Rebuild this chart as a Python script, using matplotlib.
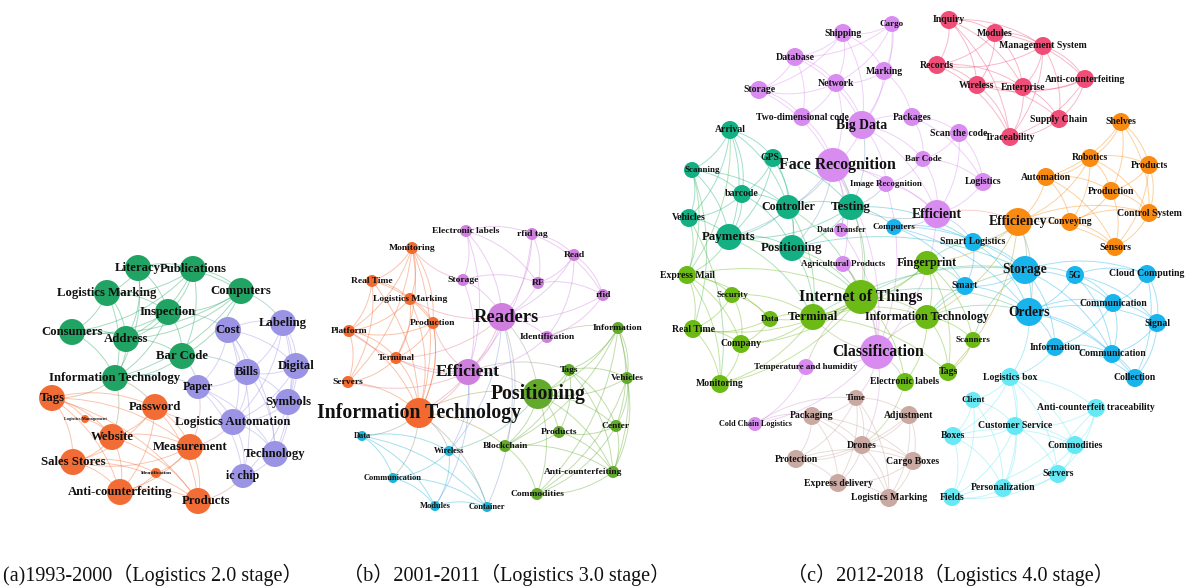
import numpy as np
import matplotlib
matplotlib.use('Agg')
import matplotlib.pyplot as plt
from matplotlib.path import Path
from matplotlib.patches import PathPatch
from matplotlib.colors import to_rgb

# ---------------- (a) 1993-2000 ----------------
labels_a = ['Literacy', 'Publications', 'Logistics Marking', 'Computers', 'Inspection',
            'Consumers', 'Address', 'Bar Code', 'Information Technology',
            'Cost', 'Labeling', 'Digital', 'Bills', 'Paper', 'Symbols',
            'Logistics Automation', 'Technology', 'ic chip',
            'Tags', 'Password', 'Logistics Management', 'Website', 'Measurement',
            'Sales Stores', 'Identification', 'Anti-counterfeiting', 'Products']
group_a = [0] * 9 + [1] * 9 + [2] * 9
weight_a = [13, 13, 13, 13, 13, 13, 13, 13, 13,
            13, 13, 13, 13, 12, 13, 13, 13, 12,
            13, 13, 4, 13, 13, 13, 5, 13, 13]
edges_a = [(0, 1), (0, 2), (0, 4), (0, 6), (0, 3), (1, 3), (1, 4), (1, 2), (1, 6), (2, 4),
           (2, 5), (2, 6), (2, 8), (3, 4), (3, 6), (3, 7), (4, 6), (4, 7), (4, 5), (5, 6),
           (5, 8), (6, 7), (6, 8), (7, 8), (3, 5), (1, 7), (0, 8), (4, 8), (1, 5), (3, 8),
           (9, 10), (9, 12), (9, 13), (9, 15), (9, 17), (10, 11), (10, 12), (10, 14), (10, 16),
           (11, 12), (11, 14), (11, 15), (12, 13), (12, 14), (12, 15), (12, 16), (13, 15),
           (13, 17), (14, 15), (14, 16), (15, 16), (15, 17), (16, 17), (9, 11), (10, 15),
           (13, 16), (11, 17), (9, 16),
           (18, 19), (18, 21), (18, 22), (18, 23), (18, 25), (18, 26), (19, 21), (19, 22),
           (19, 25), (19, 23), (21, 22), (21, 23), (21, 25), (21, 26), (22, 23), (22, 25),
           (22, 26), (23, 25), (23, 26), (25, 26), (18, 20), (20, 21), (24, 25), (22, 24),
           (19, 26), (23, 24),
           (8, 13), (7, 13), (8, 18), (8, 19), (13, 22), (15, 22), (17, 26), (7, 12),
           (4, 9), (8, 21), (15, 19), (3, 10)]
colors_a = ['#21a463', '#9b93e4', '#f26d36']

# layout (pixel positions)
pos_a = [(138, 268), (193, 269), (107, 293), (241, 291), (168, 312), (72, 332), (126, 339),
         (182, 356), (115, 378), (228, 330), (283, 323), (296, 366), (247, 372), (198, 387),
         (288, 402), (233, 422), (275, 454), (243, 476), (52, 398), (155, 407), (85, 419),
         (112, 437), (190, 447), (73, 462), (156, 473), (120, 492), (198, 501)]
label_dx_a = {26: 8}

# ---------------- (b) 2001-2011 ----------------
labels_b = ['Electronic labels', 'rfid tag', 'Read', 'Storage', 'RF', 'rfid', 'Readers',
            'Identification', 'Efficient',
            'Monitoring', 'Real Time', 'Logistics Marking', 'Production', 'Platform',
            'Terminal', 'Servers', 'Information Technology',
            'Information', 'Tags', 'Vehicles', 'Positioning', 'Center', 'Products',
            'Blockchain', 'Anti-counterfeiting', 'Commodities',
            'Data', 'Wireless', 'Communication', 'Modules', 'Container']
group_b = [1] * 9 + [0] * 8 + [2] * 9 + [3] * 5
weight_b = [6, 6, 6, 6, 6, 6, 14, 6, 13,
            6, 6, 6, 6, 6, 6, 6, 15,
            6, 6, 6, 15, 6, 6, 6, 6, 6,
            5, 5, 5, 5, 5]
edges_b = [(0, 1), (0, 3), (0, 6), (0, 4), (1, 2), (1, 4), (1, 6), (1, 5), (2, 4), (2, 5),
           (2, 6), (3, 6), (3, 4), (3, 8), (4, 6), (4, 5), (5, 6), (5, 7), (6, 7), (6, 8),
           (7, 8), (0, 8), (2, 7), (1, 8),
           (9, 10), (9, 11), (9, 12), (9, 13), (9, 14), (9, 16), (10, 11), (10, 13), (10, 15),
           (10, 16), (11, 12), (11, 13), (11, 14), (11, 16), (12, 13), (12, 14), (12, 16),
           (13, 14), (13, 15), (13, 16), (14, 15), (14, 16), (15, 16), (10, 12), (9, 15),
           (17, 18), (17, 19), (17, 20), (17, 21), (17, 24), (18, 19), (18, 20), (18, 21),
           (18, 22), (18, 23), (18, 24), (19, 20), (19, 21), (19, 24), (19, 25), (20, 21),
           (20, 22), (20, 23), (20, 24), (20, 25), (21, 22), (21, 24), (21, 25), (22, 23),
           (22, 24), (23, 24), (23, 25), (24, 25), (17, 25), (17, 23),
           (26, 27), (26, 28), (26, 29), (26, 30), (27, 28), (27, 29), (27, 30), (28, 29),
           (28, 30), (29, 30),
           (8, 16), (8, 20), (6, 20), (6, 16), (16, 20), (16, 27), (16, 28), (16, 26),
           (8, 27), (6, 30), (6, 27), (8, 29), (12, 16), (8, 12), (6, 11), (6, 14), (7, 17),
           (16, 23), (8, 18), (16, 30), (8, 14), (8, 13), (3, 9), (8, 15), (20, 27), (6, 23)]
colors_b = ['#f26a2f', '#cf80de', '#63aa2c', '#1cb4d7']

pos_b = [(466, 231), (532, 234), (574, 255), (463, 280), (538, 283), (603, 295), (502, 317),
         (547, 337), (468, 372), (412, 248), (372, 281), (410, 299), (433, 323), (349, 331),
         (396, 358), (348, 382), (419, 413), (618, 328), (569, 370), (627, 378), (538, 394),
         (616, 426), (559, 432), (505, 446), (613, 472), (537, 494), (362, 436), (449, 451),
         (393, 478), (435, 506), (487, 507)]
label_dx_b = {24: -30, 6: 4}

# ---------------- (c) 2012-2018 ----------------
labels_c = ['Cargo', 'Shipping', 'Database', 'Marking', 'Network', 'Storage',
            'Two-dimensional code', 'Big Data', 'Packages', 'Scan the code',
            'Face Recognition', 'Bar Code', 'Image Recognition', 'Logistics', 'Efficient',
            'Data Transfer', 'Agricultural Products', 'Classification',
            'Temperature and humidity', 'Cold Chain Logistics',
            'Inquiry', 'Modules', 'Management System', 'Records', 'Anti-counterfeiting',
            'Wireless', 'Enterprise', 'Supply Chain', 'Traceability',
            'Shelves', 'Robotics', 'Products', 'Automation', 'Production', 'Efficiency',
            'Conveying', 'Control System', 'Sensors',
            'Arrival', 'GPS', 'Scanning', 'barcode', 'Controller', 'Testing', 'Vehicles',
            'Payments', 'Positioning',
            'Fingerprint', 'Express Mail', 'Security', 'Internet of Things', 'Data',
            'Terminal', 'Real Time', 'Company', 'Information Technology', 'Scanners',
            'Monitoring', 'Tags', 'Electronic labels',
            'Computers', 'Smart Logistics', 'Storage', '5G', 'Cloud Computing', 'Smart',
            'Orders', 'Communication', 'Signal', 'Information', 'Communication', 'Collection',
            'Logistics box', 'Client', 'Anti-counterfeit traceability', 'Customer Service',
            'Boxes', 'Commodities', 'Servers', 'Personalization', 'Fields',
            'Time', 'Packaging', 'Adjustment', 'Drones', 'Protection', 'Cargo Boxes',
            'Express delivery', 'Logistics Marking']
group_c = ([0] * 20 + [1] * 9 + [2] * 9 + [3] * 9 + [4] * 13 + [5] * 12 + [6] * 9 + [7] * 8)
weight_c = [8, 9, 9, 9, 9, 9, 9, 14, 9, 9, 17, 8, 8, 9, 14, 7, 8, 17, 8, 7,
            9, 9, 9, 9, 9, 9, 9, 9, 9,
            9, 9, 9, 9, 9, 14, 9, 9, 9,
            9, 9, 8, 9, 12, 13, 9, 13, 13,
            12, 9, 8, 17, 8, 13, 9, 9, 12, 8, 9, 9, 9,
            8, 9, 14, 9, 9, 9, 14, 9, 9, 9, 9, 9,
            9, 8, 9, 9, 9, 9, 9, 9, 9,
            8, 9, 9, 9, 9, 9, 9, 9]
edges_c = [(0, 1), (0, 3), (0, 4), (0, 7), (0, 2), (1, 2), (1, 3), (1, 4), (1, 7), (1, 5),
           (2, 4), (2, 5), (2, 6), (2, 7), (3, 4), (3, 7), (3, 8), (4, 5), (4, 6), (4, 7),
           (4, 10), (5, 6), (5, 10), (6, 7), (6, 10), (7, 8), (7, 10), (7, 11), (7, 12),
           (8, 9), (8, 11), (8, 13), (9, 11), (9, 13), (9, 14), (10, 12), (10, 14), (10, 15),
           (10, 16), (10, 17), (11, 12), (11, 13), (11, 14), (12, 14), (13, 14), (14, 17),
           (15, 17), (16, 17), (17, 18), (17, 19), (18, 19), (7, 14), (12, 17),
           (20, 21), (20, 23), (20, 25), (20, 26), (20, 22), (21, 22), (21, 23), (21, 25),
           (21, 26), (21, 24), (22, 24), (22, 26), (22, 27), (22, 23), (23, 25), (23, 26),
           (23, 28), (24, 26), (24, 27), (24, 28), (25, 26), (25, 27), (25, 28), (26, 27),
           (26, 28), (27, 28), (20, 28), (22, 28), (24, 25),
           (29, 30), (29, 31), (29, 33), (29, 32), (29, 36), (30, 31), (30, 32), (30, 33),
           (30, 34), (30, 35), (31, 33), (31, 36), (31, 37), (32, 33), (32, 34), (32, 35),
           (33, 35), (33, 36), (33, 37), (34, 35), (34, 36), (34, 37), (35, 36), (35, 37),
           (36, 37), (32, 37), (30, 36),
           (38, 39), (38, 40), (38, 41), (38, 42), (38, 44), (39, 41), (39, 42), (39, 43),
           (39, 45), (40, 41), (40, 44), (40, 45), (41, 42), (41, 44), (41, 45), (41, 46),
           (42, 43), (42, 45), (42, 46), (43, 46), (44, 45), (45, 46), (40, 42), (38, 45),
           (39, 46), (43, 45),
           (47, 50), (47, 52), (47, 55), (47, 56), (47, 58), (48, 49), (48, 51), (48, 53),
           (48, 54), (48, 50), (49, 51), (49, 52), (49, 53), (49, 54), (50, 51), (50, 52),
           (50, 55), (50, 53), (50, 57), (51, 52), (51, 53), (51, 54), (52, 54), (52, 55),
           (53, 54), (53, 57), (54, 57), (55, 56), (55, 58), (55, 59), (56, 58), (52, 57),
           (50, 59), (48, 57), (52, 58), (50, 54),
           (60, 61), (60, 62), (60, 65), (60, 66), (61, 62), (61, 65), (61, 66), (62, 63),
           (62, 64), (62, 65), (62, 66), (62, 67), (62, 69), (63, 64), (63, 66), (63, 67),
           (63, 70), (64, 67), (64, 68), (64, 71), (65, 66), (66, 67), (66, 68), (66, 69),
           (66, 70), (66, 71), (67, 68), (67, 69), (67, 70), (68, 70), (68, 71), (69, 70),
           (69, 71), (70, 71), (63, 68), (62, 70),
           (72, 73), (72, 74), (72, 75), (72, 76), (72, 77), (72, 79), (73, 75), (73, 76),
           (73, 80), (73, 79), (74, 75), (74, 77), (74, 78), (75, 76), (75, 77), (75, 78),
           (75, 79), (75, 80), (76, 77), (76, 79), (76, 80), (77, 78), (77, 79), (78, 79),
           (78, 80), (79, 80), (72, 78), (74, 80),
           (81, 82), (81, 83), (81, 84), (81, 85), (81, 87), (82, 84), (82, 85), (82, 86),
           (82, 88), (83, 84), (83, 86), (83, 88), (83, 85), (84, 85), (84, 86), (84, 87),
           (84, 88), (85, 86), (85, 87), (86, 87), (86, 88), (87, 88), (81, 88), (82, 87),
           (10, 42), (10, 43), (10, 46), (10, 50), (10, 45), (14, 43), (14, 61), (14, 60),
           (14, 34), (7, 43), (43, 60), (43, 50), (46, 50), (46, 52), (45, 52), (42, 52),
           (45, 48), (50, 17), (50, 62), (50, 66), (55, 62), (55, 66), (47, 61), (47, 65),
           (34, 62), (34, 61), (34, 55), (34, 66), (17, 52), (17, 55), (17, 59), (17, 81),
           (17, 84), (19, 81), (19, 82), (18, 50), (16, 50), (15, 43), (56, 62), (34, 58),
           (59, 84), (52, 62), (45, 50), (42, 50), (44, 48), (40, 48), (46, 62), (43, 61),
           (34, 47), (12, 43), (66, 72), (69, 72), (55, 65), (40, 53), (44, 57), (38, 48)]
colors_c = ['#d88cf0', '#ee4e78', '#f98b12', '#12b083', '#6cba15', '#1ab4ec',
            '#66e9f4', '#c9a9a2']

pos_c = [(892, 24), (843, 33), (795, 57), (884, 71), (836, 83), (759, 90), (802, 117),
         (862, 125), (912, 117), (959, 133), (833, 165), (923, 159), (886, 184), (983, 182),
         (937, 214), (841, 230), (843, 264), (877, 352), (806, 367), (755, 424),
         (949, 20), (995, 33), (1043, 46), (937, 65), (1085, 79), (977, 85), (1023, 87),
         (1059, 119), (1010, 137),
         (1121, 122), (1090, 158), (1149, 165), (1046, 177), (1111, 191), (1018, 222),
         (1070, 222), (1149, 213), (1115, 247),
         (730, 130), (773, 158), (692, 170), (742, 194), (788, 207), (851, 207), (689, 218),
         (729, 237), (792, 248),
         (927, 263), (687, 275), (732, 295), (861, 297), (770, 319), (813, 317), (693, 329),
         (741, 344), (927, 317), (973, 340), (720, 384), (948, 372), (905, 382),
         (894, 227), (973, 242), (1025, 270), (1075, 275), (1147, 274), (965, 286),
         (1029, 312), (1113, 303), (1157, 323), (1055, 347), (1112, 354), (1135, 378),
         (1010, 377), (973, 400), (1096, 408), (1015, 426), (953, 436), (1075, 445),
         (1058, 474), (1003, 488), (952, 497),
         (856, 398), (812, 416), (909, 415), (862, 445), (796, 459), (913, 461), (838, 483),
         (889, 498)]
label_dx_c = {40: 10, 10: 4, 39: -3, 17: 1}

captions = ['(a)1993-2000\uff08Logistics 2.0 stage\uff09',
            '\uff08b\uff092001-2011\uff08Logistics 3.0 stage\uff09',
            '\uff08c\uff092012-2018\uff08Logistics 4.0 stage\uff09']

serif = ['Liberation Serif', 'Noto Sans CJK SC', 'DejaVu Serif']

fig = plt.figure(figsize=(11.88, 5.88), dpi=100)
ax = fig.add_axes([0, 0, 1, 1])
ax.set_xlim(0, 1188)
ax.set_ylim(588, 0)
ax.axis('off')


def mix(c1, c2):
    a, b = np.array(to_rgb(c1)), np.array(to_rgb(c2))
    return tuple((a + b) / 2)


def draw_net(labels, groups, weights, edges, pos, colors, font_a, font_b, dx=None):
    dx = dx or {}
    xy = np.array(pos, dtype=float)
    # curved edges (quadratic bezier, bent clockwise)
    for i, j in edges:
        p0, p1 = xy[i], xy[j]
        d = p1 - p0
        ctrl = (p0 + p1) / 2 + 0.18 * np.array([d[1], -d[0]])
        path = Path([p0, ctrl, p1], [Path.MOVETO, Path.CURVE3, Path.CURVE3])
        col = mix(colors[groups[i]], colors[groups[j]])
        ax.add_patch(PathPatch(path, fc='none', ec=col, lw=0.7, alpha=0.4, zorder=1))
    w = np.array(weights, dtype=float)
    ax.scatter(xy[:, 0], xy[:, 1], s=(1.44 * w) ** 2,
               c=[colors[g] for g in groups], linewidths=0, zorder=2)
    for k, lab in enumerate(labels):
        ax.text(xy[k, 0] + dx.get(k, 0), xy[k, 1], lab, ha='center', va='center',
                fontsize=font_a + font_b * w[k], fontweight='bold',
                family=serif, color='#111111', zorder=3)


draw_net(labels_a, group_a, weight_a, edges_a, pos_a, colors_a, 0.5, 0.67, label_dx_a)
draw_net(labels_b, group_b, weight_b, edges_b, pos_b, colors_b, 1.9, 0.82, label_dx_b)
draw_net(labels_c, group_c, weight_c, edges_c, pos_c, colors_c, 1.96, 0.56, label_dx_c)

for x0, cap in zip([3, 343, 787], captions):
    ax.text(x0, 575, cap, ha='left', va='center', fontsize=14.5, family=serif,
            color='#111111')

fig.savefig('out.png', dpi=100, facecolor='white')
